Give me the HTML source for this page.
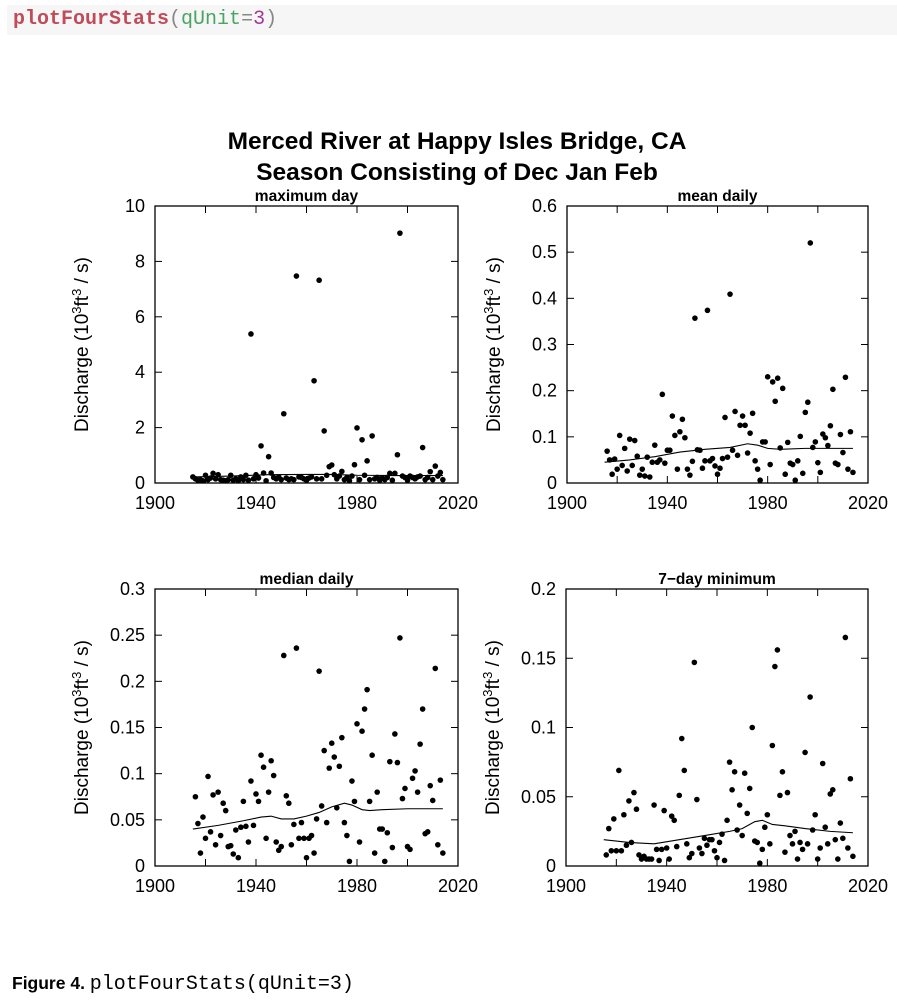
<!DOCTYPE html>
<html><head><meta charset="utf-8"><style>
body{margin:0;background:#fff;width:897px;height:1001px;overflow:hidden;position:relative;font-family:"Liberation Sans",sans-serif}
#code{position:absolute;left:7px;top:5px;width:890px;height:30px;background:#f6f6f6}
#code span{font-family:"Liberation Mono",monospace;font-size:20px}
</style></head><body>
<div id="code"><div style="position:absolute;left:6px;top:3px;white-space:pre"><span style="color:#c24b5a;font-weight:bold">plotFourStats</span><span style="color:#888">(</span><span style="color:#4aa564">qUnit</span><span style="color:#888">=</span><span style="color:#a3399b">3</span><span style="color:#888">)</span></div></div>
<svg id="chart" width="897" height="1001" style="position:absolute;left:0;top:0">
<text x="457" y="149" text-anchor="middle" font-size="24.5" font-weight="bold" font-family="Liberation Sans">Merced River at Happy Isles Bridge, CA</text>
<text x="457" y="180" text-anchor="middle" font-size="24.5" font-weight="bold" font-family="Liberation Sans">Season Consisting of Dec Jan Feb</text>
<text x="12" y="989" font-size="17.5" font-weight="bold" font-family="Liberation Sans">Figure 4. <tspan font-weight="normal" font-family="Liberation Mono" font-size="20">plotFourStats(qUnit=3)</tspan></text>
</svg>
<script>
const maxYears=[];for(let y=1915;y<=2014;y++)maxYears.push(y);
const maxVals=[.22,.15,.10,.12,.08,.28,.12,.18,.35,.15,.30,.12,.10,.08,.12,.28,.10,.15,.08,.22,.12,.28,.10,5.38,.15,.30,.18,1.34,.36,.08,.95,.36,.20,.15,.22,.12,2.50,.18,.12,.15,.12,7.47,.22,.20,.15,.10,.18,.22,3.69,.15,7.32,.15,1.88,.28,.59,.65,.30,.15,.25,.42,.12,.20,.08,.25,.66,1.99,.12,1.56,.28,.80,.12,1.70,.15,.20,.10,.18,.12,.20,.35,.10,.35,1.02,9.02,.25,.20,.10,.25,.20,.15,.22,.25,1.28,.12,.20,.41,.12,.61,.25,.38,.12];
const maxSmoothX=[1915,1930,1945,1960,1970,1980,1995,2014];
const maxSmoothY=[.22,.25,.30,.31,.31,.28,.27,.27];

const meanYears=[1916,1917,1919,1918,1920,1921,1922,1923,1924,1925,1926,1927,1928,1929,1930,1931,1932,1933,1934,1935,1936,1937,1938,1939,1940,1941,1942,1943,1944,1945,1946,1947,1948,1949,1950,1951,1952,1953,1954,1955,1956,1957,1958,1959,1960,1961,1962,1963,1964,1965,1966,1967,1968,1969,1970,1971,1972,1973,1974,1975,1976,1977,1978,1979,1980,1981,1982,1983,1984,1985,1986,1987,1988,1989,1990,1991,1992,1993,1994,1995,1996,1997,1998,1999,2000,2001,2002,2003,2004,2005,2006,2007,2008,2009,2010,2011,2012,2013,2014];
const meanVals=[.069,.050,.052,.019,.030,.103,.038,.075,.026,.095,.038,.092,.058,.017,.030,.015,.056,.013,.045,.082,.045,.050,.192,.043,.071,.071,.145,.103,.030,.111,.138,.098,.030,.017,.047,.357,.072,.071,.032,.048,.374,.048,.053,.037,.019,.032,.053,.142,.056,.409,.071,.155,.060,.125,.145,.125,.065,.108,.151,.048,.030,.006,.089,.089,.230,.040,.219,.177,.227,.076,.205,.019,.088,.043,.040,.006,.048,.101,.021,.153,.175,.520,.077,.089,.044,.023,.106,.098,.081,.124,.203,.043,.040,.105,.066,.229,.030,.111,.023];
const meanSmoothX=[1915,1925,1935,1945,1955,1965,1972,1976,1980,1985,1995,2005,2014];
const meanSmoothY=[.045,.050,.057,.067,.073,.077,.085,.082,.075,.073,.075,.075,.075];

const medYears=[];for(let y=1916;y<=2014;y++)medYears.push(y);
const medVals=[.075,.046,.014,.053,.030,.097,.037,.077,.023,.080,.033,.068,.060,.021,.022,.013,.039,.009,.042,.070,.043,.026,.092,.044,.078,.070,.120,.107,.030,.080,.114,.098,.026,.017,.021,.228,.076,.068,.023,.045,.236,.030,.047,.030,.009,.030,.033,.014,.051,.211,.065,.125,.047,.106,.133,.118,.063,.108,.139,.047,.033,.005,.092,.070,.154,.026,.146,.170,.191,.070,.120,.014,.080,.040,.040,.005,.036,.113,.020,.143,.112,.247,.073,.084,.021,.018,.095,.103,.080,.132,.170,.035,.037,.087,.071,.214,.023,.093,.014];
const medSmoothX=[1915,1925,1935,1942,1946,1950,1955,1960,1965,1970,1975,1978,1982,1985,1990,2000,2014];
const medSmoothY=[.040,.044,.049,.053,.054,.051,.051,.054,.058,.064,.068,.066,.061,.060,.061,.062,.062];

const minYears=[];for(let y=1916;y<=2014;y++)minYears.push(y);
const minVals=[.008,.027,.011,.034,.011,.069,.011,.037,.015,.047,.017,.053,.041,.008,.005,.007,.005,.005,.005,.044,.012,.004,.012,.040,.013,.005,.036,.033,.014,.051,.092,.069,.016,.006,.009,.147,.048,.013,.009,.020,.015,.019,.019,.011,.006,.017,.023,.004,.033,.075,.055,.068,.026,.044,.022,.067,.038,.056,.100,.018,.017,.002,.012,.028,.037,.016,.087,.144,.156,.051,.068,.010,.053,.022,.016,.025,.005,.017,.012,.082,.016,.122,.026,.037,.005,.013,.074,.028,.016,.052,.055,.019,.005,.031,.020,.165,.013,.063,.007];
const minSmoothX=[1915,1925,1935,1945,1955,1965,1970,1975,1978,1982,1987,1995,2005,2014];
const minSmoothY=[.019,.017,.016,.019,.022,.025,.027,.032,.033,.030,.029,.027,.025,.024];

const xTicks=[1900,1920,1940,1960,1980,2000,2020];
const xLabels=[1900,1940,1980,2020];
const panels=[
 {name:'maximum-day',title:'maximum day',L:155,R:458,T:206,B:483,ymax:10,yt:[0,2,4,6,8,10],yl:['0','2','4','6','8','10'],xs:maxYears,ys:maxVals,sx:maxSmoothX,sy:maxSmoothY},
 {name:'mean-daily',title:'mean daily',L:567,R:868,T:206,B:483,ymax:.6,yt:[0,.1,.2,.3,.4,.5,.6],yl:['0','0.1','0.2','0.3','0.4','0.5','0.6'],xs:meanYears,ys:meanVals,sx:meanSmoothX,sy:meanSmoothY},
 {name:'median-daily',title:'median daily',L:155,R:458,T:589,B:866,ymax:.3,yt:[0,.05,.1,.15,.2,.25,.3],yl:['0','0.05','0.1','0.15','0.2','0.25','0.3'],xs:medYears,ys:medVals,sx:medSmoothX,sy:medSmoothY},
 {name:'7-day-minimum',title:'7\u2212day minimum',L:566,R:868,T:589,B:866,ymax:.2,yt:[0,.05,.1,.15,.2],yl:['0','0.05','0.1','0.15','0.2'],xs:minYears,ys:minVals,sx:minSmoothX,sy:minSmoothY}
];
const svg=document.getElementById('chart');const NS='http://www.w3.org/2000/svg';
function mk(t,a,p){const e=document.createElementNS(NS,t);for(const k in a)e.setAttribute(k,a[k]);(p||svg).appendChild(e);return e;}
panels.forEach(p=>{
 const g=mk('g',{});
 
 
 const X=v=>p.L+(v-1900)/120*(p.R-p.L);
 const Y=v=>p.B-v/p.ymax*(p.B-p.T);
 const box=mk('rect',{x:p.L,y:p.T,width:p.R-p.L,height:p.B-p.T,fill:'none',stroke:'#000','stroke-width':1.3},g);
 
 
 const tt=mk('text',{x:(p.L+p.R)/2,y:p.T-5,'text-anchor':'middle','font-size':15.5,'font-weight':'bold','font-family':'Liberation Sans'},g);tt.textContent=p.title;
 
 
 xTicks.forEach(v=>{mk('line',{x1:X(v),x2:X(v),y1:p.B,y2:p.B-7,stroke:'#000'},g);mk('line',{x1:X(v),x2:X(v),y1:p.T,y2:p.T+7,stroke:'#000'},g);});
 xLabels.forEach(v=>{const t=mk('text',{x:X(v),y:p.B+26,'text-anchor':'middle','font-size':18,'font-family':'Liberation Sans'},g);t.textContent=v;
  
  });
 p.yt.forEach((v,i)=>{mk('line',{x1:p.L,x2:p.L+7,y1:Y(v),y2:Y(v),stroke:'#000'},g);mk('line',{x1:p.R,x2:p.R-7,y1:Y(v),y2:Y(v),stroke:'#000'},g);
  const t=mk('text',{x:p.L-10,y:Y(v)+6,'text-anchor':'end','font-size':18,'font-family':'Liberation Sans'},g);t.textContent=p.yl[i];
  
  });
 const cy=(p.T+p.B)/2, cx=p.L-67;
 const yt=mk('text',{x:cx,y:cy,transform:`rotate(-90 ${cx} ${cy})`,'text-anchor':'middle','font-size':19,'font-family':'Liberation Sans'},g);
 yt.innerHTML='Discharge (10<tspan dy="-7" font-size="13">3</tspan><tspan dy="7">ft</tspan><tspan dy="-7" font-size="13">3</tspan><tspan dy="7"> / s)</tspan>';
 
 
 p.xs.forEach((v,i)=>{const c=mk('circle',{cx:X(v),cy:Y(p.ys[i]),r:2.8,fill:'#000'},g);
  
  });
 const pl=mk('polyline',{points:p.sx.map((v,i)=>X(v)+','+Y(p.sy[i])).join(' '),fill:'none',stroke:'#000','stroke-width':1.1},g);
 
 
});
</script>
</body></html>
